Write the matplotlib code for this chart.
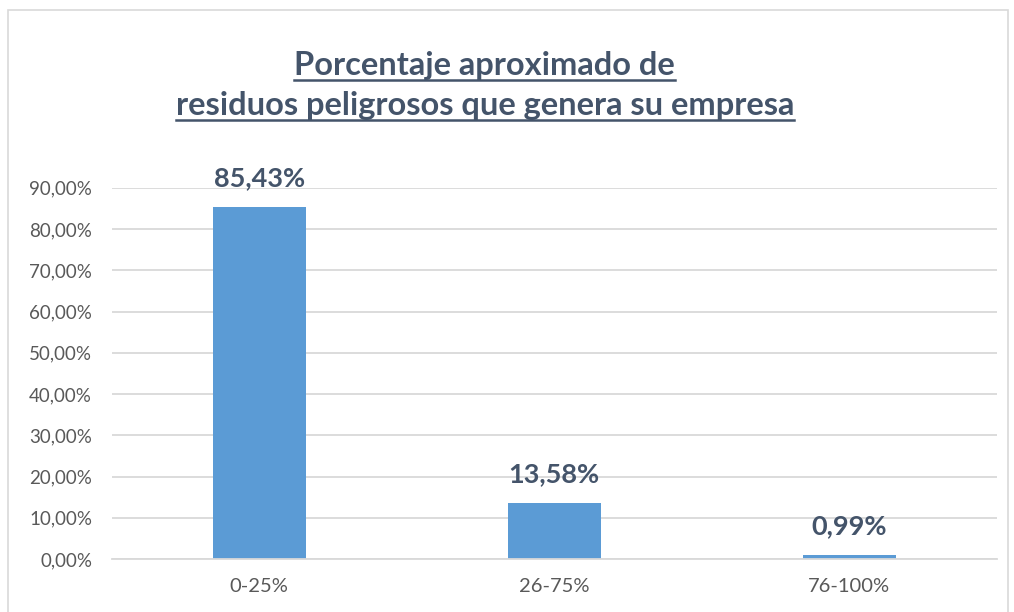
import matplotlib.pyplot as plt
from matplotlib.lines import Line2D
from matplotlib.patches import Rectangle
from matplotlib.ticker import FuncFormatter

categories = ['0-25%', '26-75%', '76-100%']
values = [85.43, 13.58, 0.99]
title_lines = ['Porcentaje aproximado de', 'residuos peligrosos que genera su empresa']

bar_color = '#5B9BD5'
text_color = '#44546A'
tick_color = '#595959'
grid_color = '#D9D9D9'

plt.rcParams['font.family'] = ['Lato', 'DejaVu Sans']

fig = plt.figure(figsize=(10.14, 6.12), dpi=100)
ax = fig.add_axes([0.110, 0.0866, 0.873, 0.6065])

x = range(len(categories))
bars = ax.bar(x, values, width=0.315, color=bar_color, zorder=3)

ax.set_xlim(-0.5, len(categories) - 0.5)
ax.set_ylim(0, 90)
ax.set_yticks(range(0, 100, 10))
ax.yaxis.set_major_formatter(FuncFormatter(lambda v, p: f'{v:.2f}'.replace('.', ',') + '%'))
ax.set_xticks(list(x))
ax.set_xticklabels(categories)
ax.tick_params(axis='both', length=0, colors=tick_color)
ax.tick_params(axis='y', pad=14, labelsize=13.5)
ax.tick_params(axis='x', pad=14, labelsize=14.5)
ax.grid(axis='y', color=grid_color, linewidth=1.3, zorder=0)
for s in ['top', 'right', 'left']:
    ax.spines[s].set_visible(False)
ax.spines['bottom'].set_color(grid_color)
ax.spines['bottom'].set_linewidth(1.3)
ax.spines['bottom'].set_zorder(4)

for b, v in zip(bars, values):
    ax.annotate(f'{v:.2f}'.replace('.', ',') + '%',
                (b.get_x() + b.get_width() / 2, v),
                xytext=(0, 12), textcoords='offset points',
                ha='center', va='bottom', fontsize=19.5, fontweight='bold',
                color=text_color)

# title, two centred lines with underline
t1 = fig.text(0.478, 1 - 75 / 612, title_lines[0], ha='center', va='baseline',
              fontsize=23.5, fontweight='bold', color=text_color)
t2 = fig.text(0.478, 1 - 115 / 612, title_lines[1], ha='center', va='baseline',
              fontsize=23.5, fontweight='bold', color=text_color)

fig.canvas.draw()
r = fig.canvas.get_renderer()
for t, yb in [(t1, 75), (t2, 115)]:
    bb = t.get_window_extent(r)
    y = 1 - (yb + 4.5) / 612
    fig.add_artist(Line2D([bb.x0 / 1014, bb.x1 / 1014], [y, y],
                          color=text_color, linewidth=1.8))

# outer chart frame
fig.add_artist(Rectangle((8 / 1014, -0.01), 1000 / 1014, 1 - 10 / 612 + 0.01,
                         transform=fig.transFigure, fill=False,
                         edgecolor='#D9D9D9', linewidth=1.2))

fig.savefig('out.png', dpi=100)
